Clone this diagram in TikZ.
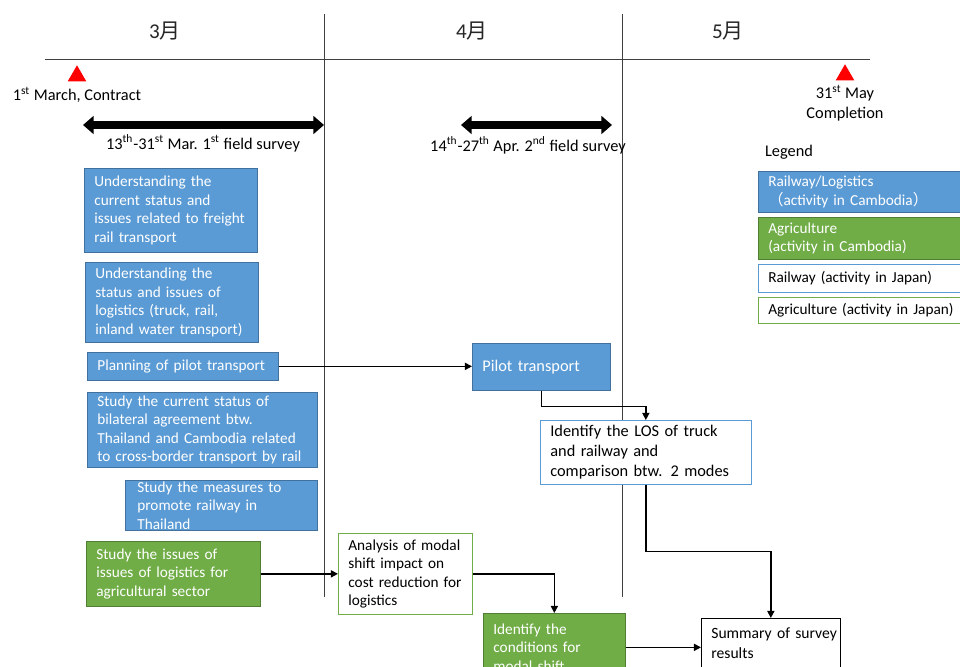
\documentclass[tikz,border=0pt]{standalone}
\usepackage{fontspec}
\setmainfont{Carlito}
\newfontfamily\cjk{Noto Sans CJK JP}
\usetikzlibrary{arrows.meta,shapes.geometric}
\definecolor{RailBlue} {RGB}{91, 155, 213}
\definecolor{RailEdge} {RGB}{65, 113, 156}
\definecolor{AgriGreen}{RGB}{112, 173, 71}
\definecolor{AgriEdge} {RGB}{80, 126, 50}
\definecolor{LineGray} {RGB}{64,  64,  64}
\hyphenpenalty=10000

\begin{document}
\begin{tikzpicture}[x=0.02cm, y=-0.02cm,
    task/.style={draw, anchor=north west, align=left, inner xsep=0.2cm, inner ysep=0pt,
      font=\fontsize{8.7}{10.5}\selectfont},
    railbox/.style={task, fill=RailBlue, draw=RailEdge, text=white},
    agribox/.style={task, fill=AgriGreen, draw=AgriEdge, text=white},
    railjp/.style={task, fill=white, draw=RailBlue},
    agrijp/.style={task, fill=white, draw=AgriGreen},
    bigtext/.style={font=\fontsize{9.3}{11.3}\selectfont},
    flow/.style={-{Triangle[length=4pt,width=4pt]}, line width=0.8pt},
    survey/.style={{Triangle[length=6pt,width=10pt]}-{Triangle[length=6pt,width=10pt]}, line width=4pt},
    milestone/.style={regular polygon, regular polygon sides=3, fill=red, minimum size=0.43cm, inner sep=0pt},
    month/.style={font=\fontsize{12}{14}\selectfont, text=black!85}]
  \useasboundingbox (0,0) rectangle (960,666);
  \clip (0,0) rectangle (960,666);

  % time axis
  \draw[LineGray, thin] (45,59) -- (870,59);
  \draw[LineGray, thin] (324,14) -- (324,597);
  \draw[LineGray, thin] (622,14) -- (622,597);
  \node[month] (mar) at (165,31) {3{\cjk 月}};
  \node[month] (apr) at (472,31) {4{\cjk 月}};
  \node[month] (may) at (728,31) {5{\cjk 月}};

  % milestones
  \node[milestone] (contract) at (77,76) {};
  \node[bigtext] (contractlbl) at (77,95) {1\textsuperscript{st} March, Contract};
  \node[milestone] (finish) at (845,75) {};
  \node[bigtext, align=center] (finishlbl) at (845,103) {31\textsuperscript{st} May\\Completion};

  % field surveys
  \coordinate (s1a) at (83,125);
  \coordinate (s1b) at (324,125);
  \coordinate (s2a) at (461,125);
  \coordinate (s2b) at (612,125);
  \draw[survey] (s1a) -- (s1b);
  \draw[survey] (s2a) -- (s2b);
  \node[bigtext] (survey1) at (203,143) {13\textsuperscript{th}-31\textsuperscript{st} Mar. 1\textsuperscript{st} field survey};
  \node[bigtext] (survey2) at (528,145) {14\textsuperscript{th}-27\textsuperscript{th} Apr. 2\textsuperscript{nd} field survey};

  % tasks in March
  \node[railbox, text width=3.06cm, minimum height=1.68cm] (freight) at (84,168)
    {Understanding the\\current status and\\issues related to freight\\rail transport};
  \node[railbox, text width=3.06cm, minimum height=1.6cm] (logi) at (85,262)
    {Understanding the\\status and issues of\\logistics (truck, rail,\\inland water transport)};
  \node[railbox, text width=3.42cm, minimum height=0.56cm] (plan) at (87,352)
    {Planning of pilot transport};
  \node[railbox, text width=4.2cm, minimum height=1.5cm] (treaty) at (87,392)
    {Study the current status of\\bilateral agreement btw.\\Thailand and Cambodia related\\to cross-border transport by rail};
  \node[railbox, text width=3.36cm, inner xsep=0.24cm, minimum height=1.0cm] (thai) at (125,480)
    {Study the measures to\\promote railway in\\Thailand};
  \node[agribox, text width=3.08cm, minimum height=1.3cm] (agri) at (86,541)
    {Study the issues of\\issues of logistics for\\agricultural sector};

  % tasks in April and May
  \node[railbox, bigtext, text width=2.36cm, minimum height=0.94cm] (pilot) at (472,343)
    {Pilot transport};
  \node[railjp, bigtext, text width=3.82cm, minimum height=1.28cm] (los) at (540,420)
    {Identify the LOS of truck\\and railway and\\comparison btw. 2 modes};
  \node[agrijp, text width=2.28cm, minimum height=1.62cm] (shift) at (338,533)
    {Analysis of modal\\shift impact on\\cost reduction for\\logistics};
  \node[agribox, text width=2.44cm, minimum height=1.36cm] (cond) at (483,613)
    {Identify the\\conditions for\\modal shift};
  \node[task, font=\fontsize{8.9}{11.3}\selectfont, draw=black, fill=white, text width=2.38cm,
    minimum height=1.0cm] (summary) at (701,618)
    {\mbox{Summary of survey}\\results};

  % connectors
  \draw[flow] (plan.east) -- (plan.east -| pilot.west);
  \draw[flow] (pilot.south) -- ++(0,16) -| (los.north);
  \draw[flow] (los.south) -- ++(0,67) -| (summary.north);
  \draw[flow] (agri.east) -- (agri.east -| shift.west);
  \draw[flow] (shift.east) -| (cond.north);
  \draw[flow] (cond.east) -- (cond.east -| summary.west);

  % legend
  \node[bigtext] (legend) at (789,152) {Legend};
  \node[railbox, text width=4cm, minimum height=0.82cm] (key1) at (758,171)
    {Railway/Logistics\\{\cjk （}activity in Cambodia{\cjk ）}};
  \node[agribox, text width=4cm, minimum height=0.84cm] (key2) at (758,217)
    {Agriculture\\(activity in Cambodia)};
  \node[railjp, text width=4cm, minimum height=0.56cm] (key3) at (758,264)
    {Railway (activity in Japan)};
  \node[agrijp, text width=4cm, minimum height=0.52cm] (key4) at (758,297)
    {Agriculture (activity in Japan)};
\end{tikzpicture}
\end{document}
